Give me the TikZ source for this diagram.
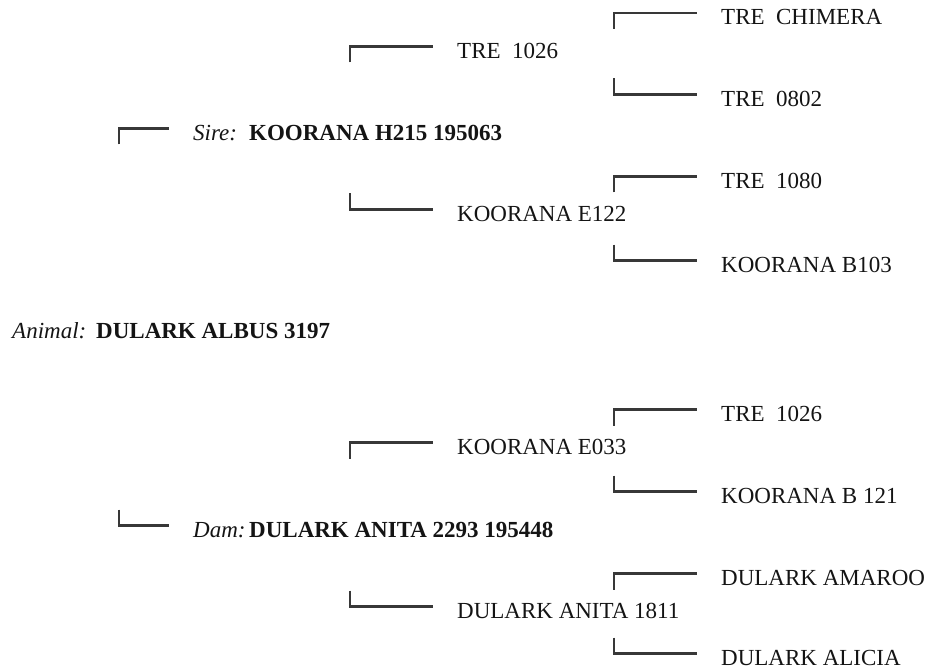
\documentclass[tikz,border=0pt]{standalone}
\usepackage{fontspec}
\setmainfont{Liberation Serif}
\usetikzlibrary{calc}
\begin{document}
\begin{tikzpicture}[x=1pt,y=-1pt,
  lbl/.style={anchor=base west,inner sep=0pt,text=black!92,font=\fontsize{23}{27}\selectfont},
  brk/.style={draw=black!78,line width=2.4pt}]
\useasboundingbox (0,0) rectangle (926,671);
% level 3 (upper)
\node[lbl] (chimera) at (721,25) {TRE~~CHIMERA};
\node[lbl] (treA) at (457,58.5) {TRE~~1026};
\node[lbl] (tre0802) at (721,106.5) {TRE~~0802};
\node[lbl] (sire) at (193,140.5) {\itshape Sire:};
\node[lbl] (sirename) at (249,140.5) {\bfseries KOORANA H215 195063};
\node[lbl] (tre1080) at (721,188.5) {TRE~~1080};
\node[lbl] (e122) at (457,221.5) {KOORANA E122};
\node[lbl] (b103) at (721,272.5) {KOORANA B103};
\node[lbl] (animal) at (12,338.5) {\itshape Animal:};
\node[lbl] (animalname) at (96,338.5) {\bfseries DULARK ALBUS 3197};
\node[lbl] (treB) at (721,421.5) {TRE~~1026};
\node[lbl] (e033) at (457,454.5) {KOORANA E033};
\node[lbl] (b121) at (721,503.5) {KOORANA B 121};
\node[lbl] (dam) at (193,537.5) {\itshape Dam:};
\node[lbl] (damname) at (249,537.5) {\bfseries DULARK ANITA 2293 195448};
\node[lbl] (amaroo) at (721,585.5) {DULARK AMAROO};
\node[lbl] (anita) at (457,618.5) {DULARK ANITA 1811};
\node[lbl] (alicia) at (721,665.5) {DULARK ALICIA};
% bracket tips
\coordinate (tChimera) at (614,29);
\coordinate (tTreA) at (350,62.5);
\coordinate (t0802) at (614,78.5);
\coordinate (tSire) at (119,144.5);
\coordinate (t1080) at (614,192.5);
\coordinate (tE122) at (350,193.5);
\coordinate (tB103) at (614,244.5);
\coordinate (tTreB) at (614,425.5);
\coordinate (tE033) at (350,458.5);
\coordinate (tB121) at (614,475.5);
\coordinate (tDam) at (119,509.5);
\coordinate (tAmaroo) at (614,589.5);
\coordinate (tAnita) at (350,590.5);
\coordinate (tAlicia) at (614,637.5);
% brackets
\foreach \t/\n in {tChimera/chimera,tTreA/treA,t0802/tre0802,tSire/sire,t1080/tre1080,tE122/e122,tB103/b103,tTreB/treB,tE033/e033,tB121/b121,tDam/dam,tAmaroo/amaroo,tAnita/anita,tAlicia/alicia}
  \draw[brk] (\t) |- ($(\n.base west)+(-24,-12)$);
\end{tikzpicture}
\end{document}
